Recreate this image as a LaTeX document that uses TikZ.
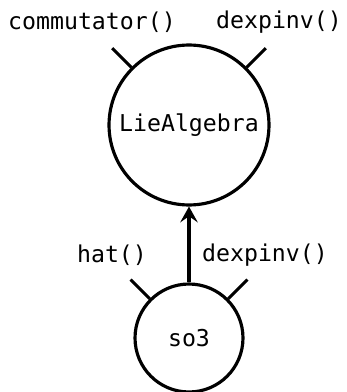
\documentclass[tikz,border=0pt]{standalone}
\usepackage{fontspec}
\setmonofont{DejaVu Sans Mono}
\usetikzlibrary{arrows.meta}
\begin{document}
\begin{tikzpicture}[x=0.02cm,y=-0.02cm,line width=1.8pt,
  iface/.style={circle,draw,inner sep=0pt},
  lbl/.style={font=\fontsize{13.2}{15}\selectfont\ttfamily}]
\useasboundingbox (0,0) rectangle (346,392);
\node[iface,minimum size=3.2cm,lbl] (lie) at (189,125) {LieAlgebra};
\node[iface,minimum size=2.16cm,lbl] (so3) at (189,338) {so3};
\draw (lie.135) -- ++(135:0.54cm) coordinate (lieL);
\draw (lie.45) -- ++(45:0.54cm) coordinate (lieR);
\draw (so3.135) -- ++(135:0.54cm) coordinate (so3L);
\draw (so3.45) -- ++(45:0.54cm) coordinate (so3R);
\node[lbl] (commut) at (92,22) {commutator()};
\node[lbl] (liedexp) at (279,22) {dexpinv()};
\node[lbl] (hat) at (112,255) {hat()};
\node[lbl] (so3dexp) at (265,255) {dexpinv()};
\draw[-{Stealth[length=9pt,width=10pt,inset=3.5pt]}] (so3) -- (lie);
\end{tikzpicture}
\end{document}
